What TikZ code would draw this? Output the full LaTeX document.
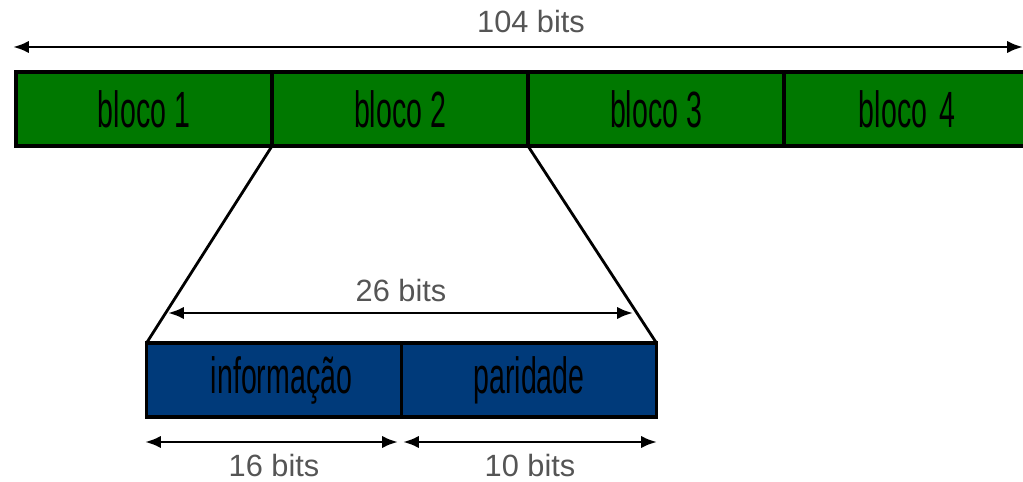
\documentclass[tikz,border=0pt]{standalone}
\usepackage{fontspec}
\setmainfont{Liberation Sans}
\newfontfamily\narrowfont[FakeStretch=0.56]{Liberation Sans}
\usepackage{xcolor}
\usetikzlibrary{arrows.meta, positioning}
\definecolor{blocogreen}{RGB}{0,120,0}
\definecolor{infoblue}{RGB}{0,58,122}
\definecolor{labelgray}{RGB}{85,85,85}

\begin{document}
\begin{tikzpicture}[
  x=0.02cm, y=-0.02cm,
  bloco/.style={rectangle, draw, fill=blocogreen, minimum width=5.12cm,
                minimum height=1.48cm, inner sep=0pt, outer sep=0pt,
                line width=2.2pt, font=\narrowfont\fontsize{29}{30}\selectfont},
  campo/.style={bloco, fill=infoblue, minimum width=5.1cm},
  bits/.style={font=\fontsize{17.5}{19}\selectfont, text=labelgray},
  arrow/.style={{Latex[length=9pt,width=7pt]}-{Latex[length=9pt,width=7pt]}, line width=1.6pt}]

  \useasboundingbox (0,0) rectangle (1023,482);

  % top row
  \node[bloco] (B1) at (144,109) {bloco 1};
  \node[bloco] (B2) at (400,109) {bloco 2};
  \node[bloco] (B3) at (656,109) {bloco 3};
  \node[bloco] (B4) at (912,109) {\hspace*{-0.2cm}bloco\hspace{0.08em} 4};

  % zoomed block
  \node[campo] (INFO) at (274,380) {\hspace*{0.3cm}informação};
  \node[campo] (PAR)  at (529,380) {paridade};

  \draw[line width=1.6pt] (B2.south west) -- (INFO.north west);
  \draw[line width=1.6pt] (B2.south east) -- (PAR.north east);

  % dimension arrows
  \coordinate (T1) at (13,47);
  \coordinate (T2) at (1023,47);
  \draw[arrow] (T1) -- (T2);
  \node[bits] (L104) at (531,22) {104 bits};

  \coordinate (M1) at (168,313);
  \coordinate (M2) at (633,313);
  \draw[arrow] (M1) -- (M2);
  \node[bits] (L26) at (401,291) {26 bits};

  \coordinate (D1) at (145,442);
  \coordinate (D2) at (398,442);
  \coordinate (D3) at (403,442);
  \coordinate (D4) at (657,442);
  \draw[arrow] (D1) -- (D2);
  \draw[arrow] (D3) -- (D4);
  \node[bits] (L16) at (274,466) {16 bits};
  \node[bits] (L10) at (530,466) {10 bits};
\end{tikzpicture}
\end{document}
